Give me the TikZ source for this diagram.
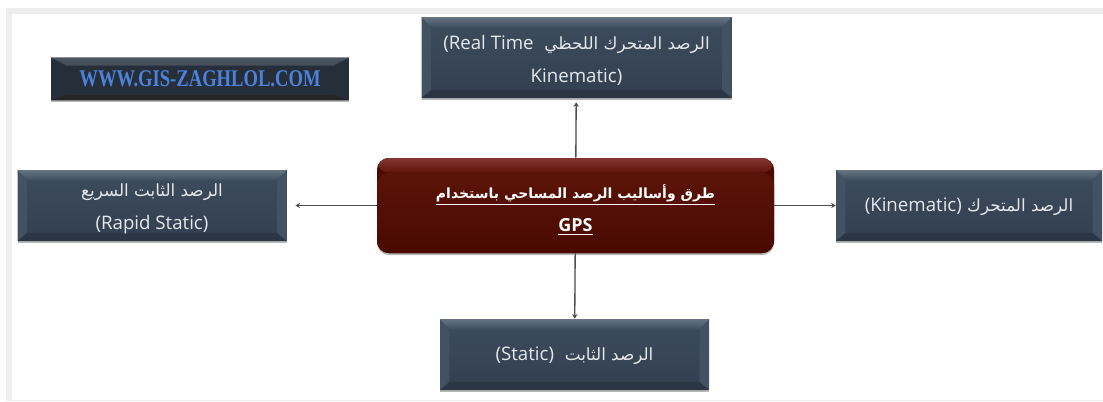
\documentclass[tikz,border=0pt]{standalone}
\usepackage{fontspec}
\setmainfont{Open Sans}
\newfontfamily\arabicfont[Script=Arabic]{DejaVu Sans}
\newfontfamily\urlfont{Liberation Serif}
\TeXXeTstate=1
\usetikzlibrary{shadows,arrows.meta}
\definecolor{bevtop}{HTML}{667482}
\definecolor{bodytop}{HTML}{3D4C5D}
\definecolor{bodybot}{HTML}{323F51}
\definecolor{bevside}{HTML}{435263}
\definecolor{txtlight}{HTML}{E4E8EC}
\definecolor{redtop}{HTML}{84362E}
\definecolor{redmid}{HTML}{5E1609}
\definecolor{redbot}{HTML}{4A0A00}
\definecolor{urlblue}{HTML}{4C82D8}
\definecolor{framegrey}{HTML}{EEEEEE}
\definecolor{urltop}{HTML}{4A545E}
\definecolor{urlbody}{HTML}{262E3A}
\newcommand{\ar}{\arabicfont\fontsize{12.6}{24.75}\selectfont}
\newcommand{\la}{\normalfont\fontsize{14}{24.75}\selectfont}
\newcommand{\lift}[1]{\rule{0pt}{#1}}
\tikzset{
  softshadow/.style={drop shadow={shadow xshift=0pt,shadow yshift=-1.6pt,opacity=.4,fill=black!70}},
  bevelbox/.style={
    rectangle, inner sep=0pt, align=center, text=txtlight, font=\fontsize{14}{24.75}\selectfont,
    fill=bodytop, softshadow,
    path picture={
      \fill[top color=bodytop,bottom color=bodybot]
        ([xshift=7pt,yshift=-8pt]path picture bounding box.north west)
        rectangle ([xshift=-7pt,yshift=6pt]path picture bounding box.south east);
      \fill[bevside] (path picture bounding box.north west)
        -- ([xshift=7pt,yshift=-8pt]path picture bounding box.north west)
        -- ([xshift=7pt,yshift=6pt]path picture bounding box.south west)
        -- (path picture bounding box.south west) -- cycle;
      \fill[bevside] (path picture bounding box.north east)
        -- ([xshift=-7pt,yshift=-8pt]path picture bounding box.north east)
        -- ([xshift=-7pt,yshift=6pt]path picture bounding box.south east)
        -- (path picture bounding box.south east) -- cycle;
      \fill[top color=bevtop,bottom color=bodytop]
        (path picture bounding box.north west) -- (path picture bounding box.north east)
        -- ([xshift=-7pt,yshift=-8pt]path picture bounding box.north east)
        -- ([xshift=7pt,yshift=-8pt]path picture bounding box.north west) -- cycle;
      \fill[bodybot!85!black] (path picture bounding box.south west)
        -- ([xshift=7pt,yshift=6pt]path picture bounding box.south west)
        -- ([xshift=-7pt,yshift=6pt]path picture bounding box.south east)
        -- (path picture bounding box.south east) -- cycle;
    }},
  urlbox/.style={
    rectangle, inner sep=0pt, text=urlblue, softshadow, fill=urlbody,
    font=\urlfont\bfseries\fontsize{18}{20}\selectfont,
    path picture={
      \fill[top color=urltop,bottom color=urlbody]
        (path picture bounding box.north west) -- (path picture bounding box.north east)
        -- ([xshift=-12pt,yshift=-6pt]path picture bounding box.north east)
        -- ([xshift=12pt,yshift=-6pt]path picture bounding box.north west) -- cycle;
      \fill[black!85] (path picture bounding box.south west)
        -- ([xshift=12pt,yshift=4pt]path picture bounding box.south west)
        -- ([xshift=-12pt,yshift=4pt]path picture bounding box.south east)
        -- (path picture bounding box.south east) -- cycle;
    }},
  mainbox/.style={
    rectangle, rounded corners=9pt, inner sep=0pt, align=center, text=white,
    font=\bfseries\fontsize{13.5}{24.75}\selectfont, softshadow, fill=redbot,
    path picture={
      \fill[top color=redmid,bottom color=redbot]
        ([yshift=-11pt]path picture bounding box.north west)
        rectangle (path picture bounding box.south east);
      \fill[top color=redtop,bottom color=redmid]
        (path picture bounding box.north west)
        rectangle ([yshift=-11pt]path picture bounding box.north east);
    }},
  conn/.style={draw=black!70, line width=1pt, -{Stealth[length=3.5pt,width=4pt]}}
}
\begin{document}
\begin{tikzpicture}[x=0.75pt,y=-0.75pt]
\useasboundingbox (0,0) rectangle (1103,401);
% page frame
\fill[framegrey] (6,8) rectangle (1103,14);
\fill[framegrey] (6,8) rectangle (12,401);
\fill[framegrey] (6,399.5) rectangle (1103,401);

\node[bevelbox, minimum width=232.5pt, minimum height=60.75pt] (rt) at (576.5,57.5)
  {\lift{15pt}{\ar\beginR الرصد المتحرك اللحظي\ \ \beginL{\la (Real Time}\endL\endR}\\Kinematic)};
\node[urlbox, minimum width=223.5pt, minimum height=32pt] (url) at (200,79)
  {\scalebox{0.775}[1]{WWW.GIS-ZAGHLOL.COM}};
\node[bevelbox, minimum width=201.75pt, minimum height=53.25pt] (rapid) at (152,205.5)
  {\lift{15pt}{\ar\beginR الرصد الثابت السريع\endR}\\(Rapid Static)};
\node[mainbox, minimum width=297.75pt, minimum height=71.25pt] (main) at (575.5,205.5)
  {\lift{17pt}\underline{\hbox{\arabicfont\bfseries\fontsize{10.5}{12}\selectfont\beginR طرق وأساليب الرصد المساحي باستخدام\endR}}\\\underline{GPS}};
\node[bevelbox, minimum width=199.5pt, minimum height=53.25pt] (kin) at (969,205.5)
  {\lift{12.5pt}{\ar\beginR الرصد المتحرك \beginL{\la (Kinematic)}\endL\endR}};
\node[bevelbox, minimum width=201.75pt, minimum height=53.25pt] (st) at (574.5,354.5)
  {\lift{12.5pt}{\ar\beginR الرصد الثابت \ \beginL{\la (Static)}\endL\endR}};

\draw[conn, shorten >=3pt] (main) -- (rt);
\draw[conn, shorten >=6.5pt] (main) -- (rapid);
\draw[conn] (main) -- (kin);
\draw[conn] (main) -- (st);
\end{tikzpicture}
\end{document}
